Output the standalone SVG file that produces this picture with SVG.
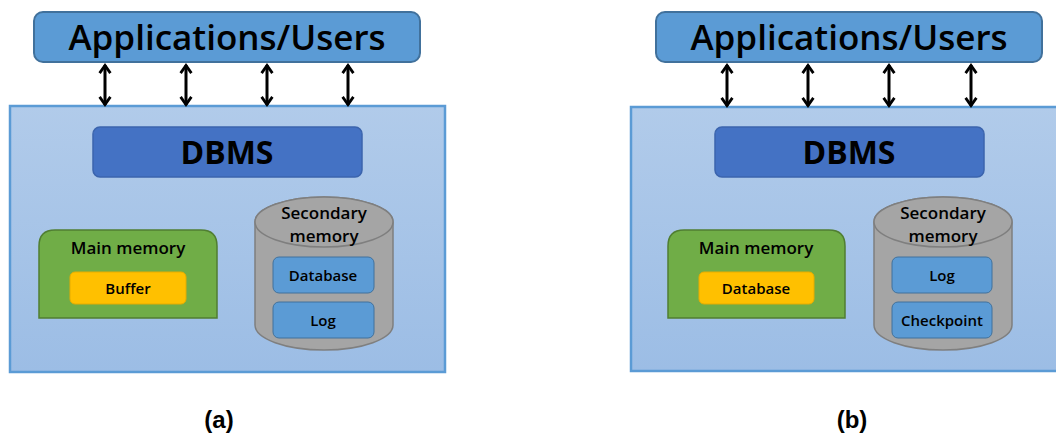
<svg xmlns="http://www.w3.org/2000/svg" width="1056" height="436" viewBox="0 0 1056 436">
<defs>
<linearGradient id="bg" x1="0" y1="0" x2="0" y2="1">
<stop offset="0" stop-color="#B1CBEA"/>
<stop offset="1" stop-color="#9CBDE5"/>
</linearGradient>
<marker id="ah" viewBox="0 0 10 12" refX="8.5" refY="6" markerWidth="3.6" markerHeight="4.4" orient="auto-start-reverse" markerUnits="strokeWidth">
<polyline points="1,1 8,6 1,11" fill="none" stroke="#000" stroke-width="2.6" stroke-linejoin="miter"/>
</marker>
<style>
.app{fill:#5B9BD5;stroke:#41719C;stroke-width:2}
.outer{fill:url(#bg);stroke:#5B9BD5;stroke-width:2.5}
.dbms{fill:#4472C4;stroke:#3B64AD;stroke-width:1.5}
.main{fill:#70AD47;stroke:#507E32;stroke-width:1.5}
.buf{fill:#FFC000;stroke:#E6AC00;stroke-width:1}
.cyl{fill:#A5A5A5;stroke:#7F7F7F;stroke-width:1.5}
.inner{fill:#5B9BD5;stroke:#41719C;stroke-width:1}
.t{font-family:"Open Sans","DejaVu Sans",sans-serif;fill:#000;text-anchor:middle}
.big{font-size:35px;font-weight:600}
.db{font-size:32px;font-weight:700}
.mid{font-size:17px;font-weight:600}
.sm{font-size:15px;font-weight:600}
.lab{font-family:"Liberation Sans",Arial,sans-serif;font-size:24px;font-weight:700;text-anchor:middle}
.arr{stroke:#000;stroke-width:3;fill:none}
</style>
</defs>

<g id="panel-a">
<g id="a-apps"><rect class="app" x="34" y="12" width="386" height="50" rx="9"/><text class="t big" x="227" y="50">Applications/Users</text></g>
<g id="a-system"><rect class="outer" x="10" y="106" width="435" height="266"/></g>
<g id="a-dbms"><rect class="dbms" x="93" y="127" width="269" height="50" rx="7"/><text class="t db" x="227" y="164">DBMS</text></g>
<g id="a-main"><path class="main" d="M39,318 L39,246 Q39,230 55,230 L201,230 Q217,230 217,246 L217,318 Z"/><text class="t mid" x="128" y="254">Main memory</text></g>
<g id="a-buffer"><rect class="buf" x="70" y="272" width="116" height="32" rx="5"/><text class="t sm" x="128" y="294">Buffer</text></g>
<g id="a-secondary"><path class="cyl" d="M255,222 A69,25 0 0 1 393,222 L393,325 A69,25 0 0 1 255,325 Z"/><ellipse class="cyl" cx="324" cy="222" rx="69" ry="25"/><text class="t mid" x="324" y="219">Secondary</text><text class="t mid" x="324" y="242">memory</text></g>
<g id="a-database"><rect class="inner" x="273" y="257" width="101" height="36" rx="6"/><text class="t sm" x="323" y="281">Database</text></g>
<g id="a-log"><rect class="inner" x="273" y="302" width="101" height="36" rx="6"/><text class="t sm" x="323" y="326">Log</text></g>
</g>

<g id="panel-b">
<g id="b-apps"><rect class="app" x="656" y="12" width="386" height="50" rx="9"/><text class="t big" x="849" y="50">Applications/Users</text></g>
<g id="b-system"><rect class="outer" x="631" y="107" width="440" height="264"/></g>
<g id="b-dbms"><rect class="dbms" x="715" y="127" width="269" height="50" rx="7"/><text class="t db" x="849" y="164">DBMS</text></g>
<g id="b-main"><path class="main" d="M668,318 L668,246 Q668,230 684,230 L829,230 Q845,230 845,246 L845,318 Z"/><text class="t mid" x="756" y="254">Main memory</text></g>
<g id="b-database"><rect class="buf" x="699" y="272" width="115" height="32" rx="5"/><text class="t sm" x="756" y="294">Database</text></g>
<g id="b-secondary"><path class="cyl" d="M874,222 A69,25 0 0 1 1012,222 L1012,325 A69,25 0 0 1 874,325 Z"/><ellipse class="cyl" cx="943" cy="222" rx="69" ry="25"/><text class="t mid" x="943" y="219">Secondary</text><text class="t mid" x="943" y="242">memory</text></g>
<g id="b-log"><rect class="inner" x="892" y="257" width="100" height="36" rx="6"/><text class="t sm" x="942" y="281">Log</text></g>
<g id="b-checkpoint"><rect class="inner" x="892" y="302" width="100" height="36" rx="6"/><text class="t sm" x="942" y="326">Checkpoint</text></g>
</g>

<g id="connectors">
<line class="arr" x1="105" y1="65" x2="105" y2="105" marker-start="url(#ah)" marker-end="url(#ah)"/>
<line class="arr" x1="186" y1="65" x2="186" y2="105" marker-start="url(#ah)" marker-end="url(#ah)"/>
<line class="arr" x1="267" y1="65" x2="267" y2="105" marker-start="url(#ah)" marker-end="url(#ah)"/>
<line class="arr" x1="348" y1="65" x2="348" y2="105" marker-start="url(#ah)" marker-end="url(#ah)"/>
<line class="arr" x1="727" y1="65" x2="727" y2="106" marker-start="url(#ah)" marker-end="url(#ah)"/>
<line class="arr" x1="808" y1="65" x2="808" y2="106" marker-start="url(#ah)" marker-end="url(#ah)"/>
<line class="arr" x1="889" y1="65" x2="889" y2="106" marker-start="url(#ah)" marker-end="url(#ah)"/>
<line class="arr" x1="971" y1="65" x2="971" y2="106" marker-start="url(#ah)" marker-end="url(#ah)"/>
</g>

<text class="lab" x="219" y="428">(a)</text>
<text class="lab" x="852" y="428">(b)</text>
</svg>
